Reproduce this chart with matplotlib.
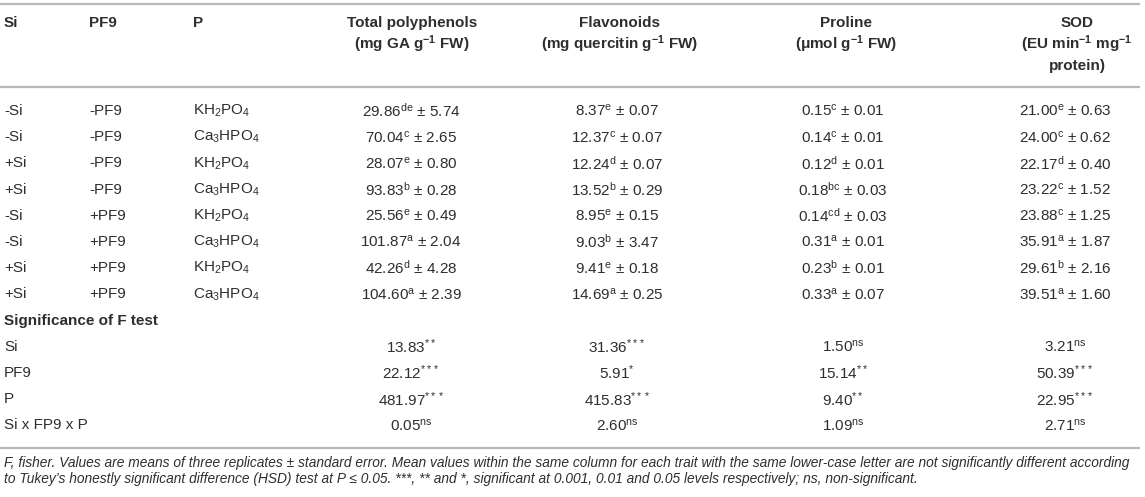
import matplotlib
matplotlib.use("Agg")
import matplotlib.pyplot as plt

plt.rcParams["font.family"] = ["Liberation Sans", "DejaVu Sans"]
plt.rcParams["mathtext.fontset"] = "custom"
plt.rcParams["mathtext.rm"] = "Liberation Sans"
plt.rcParams["mathtext.it"] = "Liberation Sans:italic"
plt.rcParams["mathtext.bf"] = "Liberation Sans:bold"
plt.rcParams["mathtext.default"] = "regular"

# treatments
si = ["-Si", "-Si", "+Si", "+Si", "-Si", "-Si", "+Si", "+Si"]
pf9 = ["-PF9", "-PF9", "-PF9", "-PF9", "+PF9", "+PF9", "+PF9", "+PF9"]
p_src = ["KH$_2$PO$_4$", "Ca$_3$HPO$_4$"] * 4

# means, letters, standard errors
poly_mean = [29.86, 70.04, 28.07, 93.83, 25.56, 101.87, 42.26, 104.60]
poly_let = ["de", "c", "e", "b", "e", "a", "d", "a"]
poly_se = [5.74, 2.65, 0.80, 0.28, 0.49, 2.04, 4.28, 2.39]

flav_mean = [8.37, 12.37, 12.24, 13.52, 8.95, 9.03, 9.41, 14.69]
flav_let = ["e", "c", "d", "b", "e", "b", "e", "a"]
flav_se = [0.07, 0.07, 0.07, 0.29, 0.15, 3.47, 0.18, 0.25]

prol_mean = [0.15, 0.14, 0.12, 0.18, 0.14, 0.31, 0.23, 0.33]
prol_let = ["c", "c", "d", "bc", "cd", "a", "b", "a"]
prol_se = [0.01, 0.01, 0.01, 0.03, 0.03, 0.01, 0.01, 0.07]

sod_mean = [21.00, 24.00, 22.17, 23.22, 23.88, 35.91, 29.61, 39.51]
sod_let = ["e", "c", "d", "c", "c", "a", "b", "a"]
sod_se = [0.63, 0.62, 0.40, 1.52, 1.25, 1.87, 2.16, 1.60]

# F test
f_sources = ["Si", "PF9", "P", "Si x FP9 x P"]
poly_f = [13.83, 22.12, 481.97, 0.05]
poly_sig = ["**", "***", "***", "ns"]
flav_f = [31.36, 5.91, 415.83, 2.60]
flav_sig = ["***", "*", "***", "ns"]
prol_f = [1.50, 15.14, 9.40, 1.09]
prol_sig = ["ns", "**", "**", "ns"]
sod_f = [3.21, 50.39, 22.95, 2.71]
sod_sig = ["ns", "***", "***", "ns"]

headers = [
    ["Total polyphenols", "(mg GA g$^{-1}$ FW)"],
    ["Flavonoids", "(mg quercitin g$^{-1}$ FW)"],
    ["Proline", "(μmol g$^{-1}$ FW)"],
    ["SOD", "(EU min$^{-1}$ mg$^{-1}$", "protein)"],
]

footnote = [
    "F, fisher. Values are means of three replicates ± standard error. Mean values within the same column for each trait "
    "with the same lower-case letter are not significantly different according",
    "to Tukey’s honestly significant difference (HSD) test at P ≤ 0.05. ***, ** and *, significant at 0.001, 0.01 and "
    "0.05 levels respectively; ns, non-significant.",
]

TXT = "#2e2e2e"
RULE = "#b8b8b8"
FS = 11

fig = plt.figure(figsize=(11.45, 4.97), dpi=100)
ax = fig.add_axes([0, 0, 1, 1])
ax.set_xlim(0, 1145)
ax.set_ylim(497, 0)
ax.axis("off")

x_left = [4, 89, 193]
x_num = [411, 617, 843, 1065]
x_head = [412, 620, 846, 1077]

# rules
for yy in [4, 87, 448]:
    ax.plot([0, 1140], [yy, yy], color=RULE, lw=1.6, solid_capstyle="butt")

# header
for x, lab in zip(x_left, ["Si", "PF9", "P"]):
    ax.text(x, 23, lab, fontsize=FS, fontweight="bold", color=TXT, va="center", ha="left")
for x, lines in zip(x_head, headers):
    for k, line in enumerate(lines):
        ax.text(x, 23 + 21.5 * k, line, fontsize=FS, fontweight="bold", color=TXT, va="center", ha="center")

# treatment rows
row0, step = 111, 26.2
cols = [(poly_mean, poly_let, poly_se), (flav_mean, flav_let, flav_se),
        (prol_mean, prol_let, prol_se), (sod_mean, sod_let, sod_se)]
for i in range(len(si)):
    y = row0 + step * i
    for x, lab in zip(x_left, [si[i], pf9[i], p_src[i]]):
        ax.text(x, y, lab, fontsize=FS, color=TXT, va="center", ha="left")
    for x, (m, l, s) in zip(x_num, cols):
        ax.text(x, y, f"{m[i]:.2f}$^{{{l[i]}}}$ ± {s[i]:.2f}", fontsize=FS, color=TXT,
                va="center", ha="center")

# significance block
y_sig = row0 + step * len(si)
ax.text(x_left[0], y_sig, "Significance of F test", fontsize=FS, fontweight="bold",
        color=TXT, va="center", ha="left")
fcols = [(poly_f, poly_sig), (flav_f, flav_sig), (prol_f, prol_sig), (sod_f, sod_sig)]
for j, src in enumerate(f_sources):
    y = y_sig + step * (j + 1)
    ax.text(x_left[0], y, src, fontsize=FS, color=TXT, va="center", ha="left")
    for x, (fv, sg) in zip(x_num, fcols):
        ax.text(x, y, f"{fv[j]:.2f}$^{{{sg[j]}}}$", fontsize=FS, color=TXT, va="center", ha="center")

# footnote
for k, line in enumerate(footnote):
    ax.text(4, 463 + 16 * k, line, fontsize=9.9, style="italic", color=TXT,
            va="center", ha="left", family=["Liberation Sans Narrow", "Liberation Sans"])

fig.savefig("out.png", dpi=100)
